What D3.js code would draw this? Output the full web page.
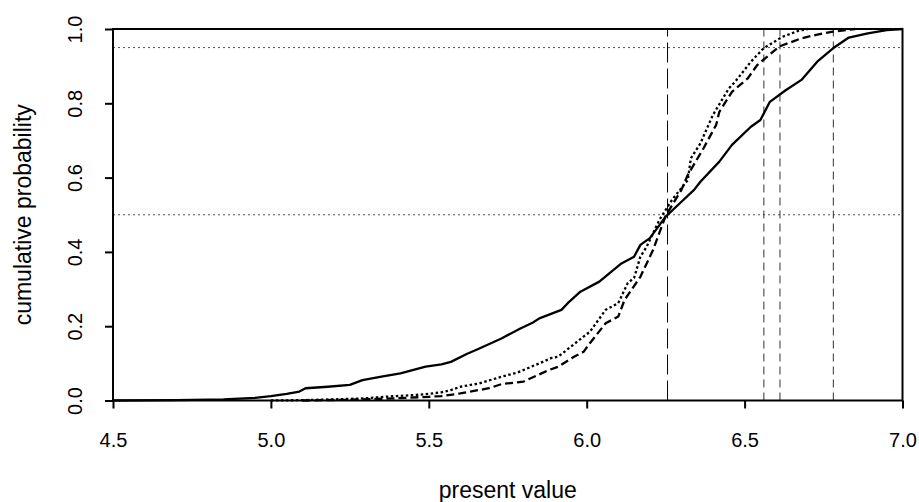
<!DOCTYPE html>
<html><head><meta charset="utf-8">
<script src="https://cdn.jsdelivr.net/npm/d3@7"></script>
<style>body{margin:0;background:#fff}svg{display:block}text{font-family:"Liberation Sans",Arial,sans-serif}</style>
</head><body><svg id="c" width="919" height="502"></svg>
<script>
const xTicks = [4.5, 5.0, 5.5, 6.0, 6.5, 7.0];
const yTicks = [0.0, 0.2, 0.4, 0.6, 0.8, 1.0];
const solidX = [4.50,4.70,4.85,4.95,5.00,5.05,5.09,5.11,5.18,5.25,5.29,5.35,5.41,5.49,5.54,5.57,5.62,5.66,5.73,5.79,5.83,5.85,5.92,5.94,5.98,6.04,6.11,6.15,6.17,6.20,6.25,6.30,6.34,6.36,6.42,6.46,6.52,6.55,6.58,6.63,6.68,6.73,6.78,6.83,6.89,6.95,7.00];
const solidY = [0,0.001,0.003,0.007,0.012,0.018,0.024,0.033,0.037,0.042,0.055,0.064,0.073,0.091,0.097,0.104,0.125,0.14,0.167,0.194,0.21,0.221,0.244,0.262,0.293,0.32,0.369,0.387,0.419,0.437,0.495,0.535,0.567,0.589,0.643,0.688,0.737,0.755,0.804,0.835,0.863,0.912,0.948,0.977,0.988,0.997,1.0];
const dottedX = [5.00,5.10,5.20,5.30,5.36,5.46,5.50,5.54,5.57,5.60,5.66,5.73,5.78,5.85,5.89,5.91,5.99,6.01,6.06,6.10,6.13,6.15,6.17,6.19,6.23,6.27,6.32,6.33,6.36,6.39,6.40,6.45,6.47,6.52,6.56,6.62,6.67,6.70];
const dottedY = [0,0.001,0.003,0.006,0.01,0.015,0.018,0.022,0.028,0.037,0.046,0.064,0.075,0.1,0.115,0.118,0.172,0.185,0.244,0.262,0.316,0.330,0.387,0.414,0.486,0.54,0.593,0.652,0.692,0.75,0.769,0.84,0.858,0.912,0.948,0.979,0.995,1.0];
const dashedX = [5.10,5.25,5.40,5.50,5.54,5.60,5.69,5.73,5.80,5.88,5.91,5.96,5.99,6.01,6.06,6.10,6.12,6.17,6.21,6.25,6.30,6.32,6.37,6.41,6.42,6.46,6.51,6.54,6.61,6.68,6.73,6.78,6.85];
const dashedY = [0,0.002,0.006,0.01,0.012,0.019,0.033,0.044,0.051,0.082,0.091,0.118,0.131,0.154,0.208,0.226,0.271,0.333,0.405,0.497,0.567,0.607,0.679,0.742,0.777,0.831,0.867,0.903,0.953,0.975,0.985,0.993,1.0];
const medianLine = [6.256];
const quantileLines = [6.561, 6.612, 6.781];
const probLines = [0.5, 0.95];

const svg = d3.select("#c");
const L = 113, R = 902.5, T = 29, B = 400.5;
const FS_TICK = 20, FS_TITLE = 23;
const x = d3.scaleLinear().domain([4.5, 7.0]).range([L, R]);
const y = d3.scaleLinear().domain([0, 1]).range([B, T]);

// reference lines
svg.selectAll(".hl").data(probLines).enter().append("line")
  .attr("x1", L).attr("x2", R).attr("y1", d => y(d)).attr("y2", d => y(d))
  .attr("stroke", "#555").attr("stroke-width", 1).attr("stroke-dasharray", "2,3");
svg.selectAll(".ml").data(medianLine).enter().append("line")
  .attr("x1", d => x(d)).attr("x2", d => x(d)).attr("y1", y(0)).attr("y2", y(1))
  .attr("stroke", "#000").attr("stroke-width", 1).attr("stroke-dasharray", "20,6");
svg.selectAll(".ql").data(quantileLines).enter().append("line")
  .attr("x1", d => x(d)).attr("x2", d => x(d)).attr("y1", y(0)).attr("y2", y(1))
  .attr("stroke", "#333").attr("stroke-width", 1).attr("stroke-dasharray", "8,5");

const line = d3.line().x(d => x(d[0])).y(d => y(d[1]));
function draw(xs, ys, dash) {
  svg.append("path").datum(xs.map((v, i) => [v, ys[i]]))
    .attr("d", line).attr("fill", "none").attr("stroke", "#000")
    .attr("stroke-width", 2.3).attr("stroke-linejoin", "round")
    .attr("stroke-dasharray", dash);
}
draw(solidX, solidY, null);
draw(dottedX, dottedY, "2.5,2.5");
draw(dashedX, dashedY, "8,4");

// box
svg.append("rect").attr("x", L).attr("y", T).attr("width", R - L).attr("height", B - T)
  .attr("fill", "none").attr("stroke", "#000").attr("stroke-width", 2);

// axes
const xa = svg.append("g").attr("transform", `translate(0,${B})`)
  .call(d3.axisBottom(x).tickValues(xTicks).tickFormat(d3.format(".1f")).tickSize(8));
const ya = svg.append("g").attr("transform", `translate(${L},0)`)
  .call(d3.axisLeft(y).tickValues(yTicks).tickFormat(d3.format(".1f")).tickSize(8));
[xa, ya].forEach(g => {
  g.select(".domain").remove();
  g.selectAll("line").attr("stroke", "#000").attr("stroke-width", 2);
  g.selectAll("text").attr("font-size", FS_TICK).attr("fill", "#000")
    .attr("font-family", '"Liberation Sans", Arial, sans-serif');
});
xa.selectAll("text").attr("dy", null).attr("y", 46.5);
ya.selectAll("text").attr("text-anchor", "middle").attr("dy", null).attr("x", null)
  .attr("transform", "translate(-31,0) rotate(-90)").attr("y", 0);

svg.append("text").attr("x", (L + R) / 2).attr("y", 498).attr("text-anchor", "middle")
  .attr("font-size", FS_TITLE).text("present value");
svg.append("text").attr("transform", `translate(30.5,${(T + B) / 2}) rotate(-90)`)
  .attr("text-anchor", "middle").attr("font-size", FS_TITLE).text("cumulative probability");
</script></body></html>
